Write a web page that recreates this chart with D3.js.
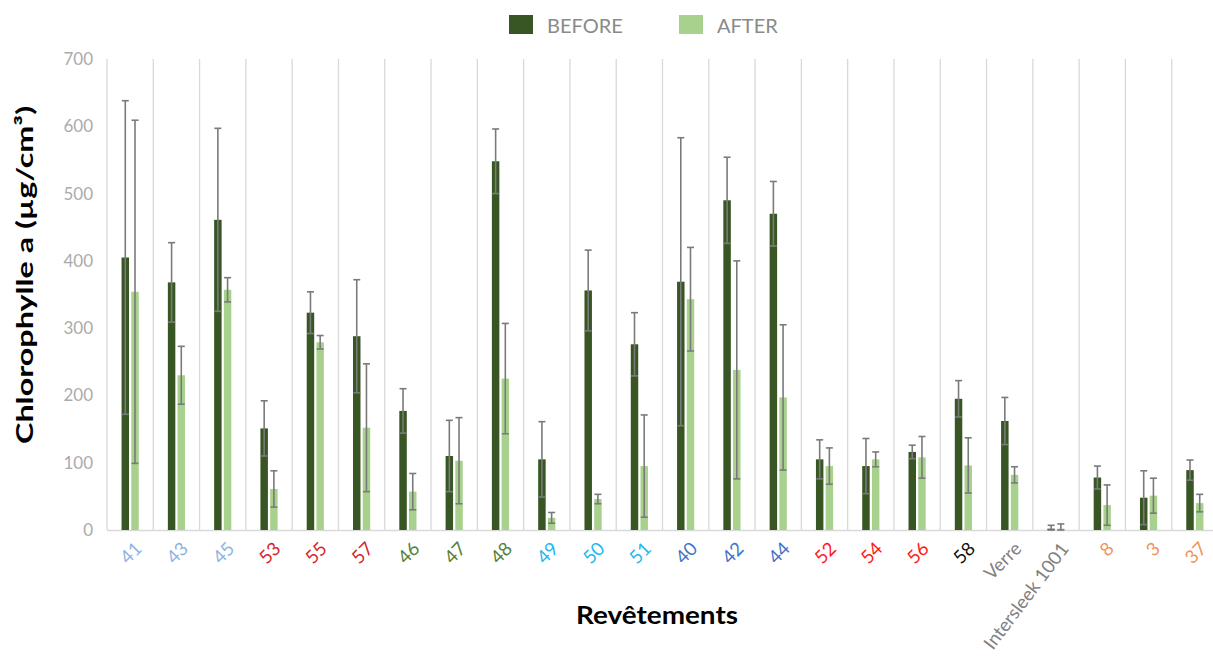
<!DOCTYPE html>
<html>
<head>
<meta charset="utf-8">
<script src="https://cdn.jsdelivr.net/npm/d3@7"></script>
<style>
  html, body { margin: 0; padding: 0; background: #fff; }
  svg { display: block; }
</style>
</head>
<body>
<svg id="chart" width="1213" height="671"></svg>
<script>
const categories = ["41","43","45","53","55","57","46","47","48","49","50","51","40","42","44","52","54","56","58","Verre","Intersleek 1001","8","3","37"];
const labelColors = ["#8fb4e3","#8fb4e3","#8fb4e3","#d6262f","#d6262f","#d6262f","#548235","#548235","#548235","#22b8f0","#22b8f0","#22b8f0","#4472c4","#4472c4","#4472c4","#ff1a1a","#ff1a1a","#ff1a1a","#111111","#808080","#808080","#f0955a","#f0955a","#f0955a"];
const before    = [405,368,461,151,323,288,177,110,548,105,356,276,369,490,470,105,95,116,195,162,2,78,48,89];
const beforeErr = [233,59,136,41,31,84,33,53,48,56,60,47,214,64,48,29,41,10,27,35,5,17,40,15];
const after     = [354,230,357,61,279,152,57,103,225,18,46,95,343,238,197,95,105,108,96,82,2,37,51,40];
const afterErr  = [255,43,18,27,10,95,27,64,82,8,7,76,77,162,108,27,11,31,41,12,7,30,26,13];
const yTicks = [0,100,200,300,400,500,600,700];
const seriesNames = ["BEFORE","AFTER"];
const seriesColors = ["#375623","#a9d18e"];

const svg = d3.select("#chart");
const font = "'Lato', 'Noto Sans', sans-serif";
const x0 = 107, x1 = 1218, yTop = 59, yBot = 530;

const x = d3.scaleBand().domain(categories).range([x0, x1]).paddingInner(0).paddingOuter(0);
const y = d3.scaleLinear().domain([0, 700]).range([yBot, yTop]);
const xs = d3.scaleBand().domain(seriesNames).range([0, x.bandwidth()]).paddingInner(0.23).paddingOuter(1.5);

// vertical gridlines at category boundaries
const bounds = categories.map(c => x(c));
svg.append("g").selectAll("line").data(bounds).join("line")
  .attr("x1", d => d).attr("x2", d => d)
  .attr("y1", yTop).attr("y2", yBot)
  .attr("stroke", "#d9d9d9").attr("stroke-width", 1.3);

// bottom axis line
svg.append("line").attr("x1", x0).attr("x2", x1).attr("y1", yBot + 0.5).attr("y2", yBot + 0.5)
  .attr("stroke", "#d9d9d9").attr("stroke-width", 1.5);

// y axis ticks
const yAxis = d3.axisLeft(y).tickValues(yTicks).tickSize(0).tickPadding(14);
const gy = svg.append("g").attr("transform", `translate(${x0},0)`).call(yAxis);
gy.select(".domain").remove();
gy.selectAll("text").attr("fill", "#ababab").style("font-family", font).style("font-size", "17px").style("font-weight", "400");

// bars
const data = [];
categories.forEach((c, i) => {
  data.push({c, s: "BEFORE", v: before[i], e: beforeErr[i], col: seriesColors[0]});
  data.push({c, s: "AFTER", v: after[i], e: afterErr[i], col: seriesColors[1]});
});
svg.append("g").selectAll("rect").data(data).join("rect")
  .attr("x", d => x(d.c) + xs(d.s))
  .attr("width", xs.bandwidth())
  .attr("y", d => y(d.v))
  .attr("height", d => y(0) - y(d.v))
  .attr("fill", d => d.col);

// error bars
const eg = svg.append("g").attr("stroke", "#7a7a7a").attr("stroke-width", 1.6);
data.forEach(d => {
  const cx = x(d.c) + xs(d.s) + xs.bandwidth() / 2;
  const lo = Math.max(0, d.v - d.e), hi = d.v + d.e;
  eg.append("line").attr("x1", cx).attr("x2", cx).attr("y1", y(hi)).attr("y2", y(lo));
  eg.append("line").attr("x1", cx - 3.5).attr("x2", cx + 3.5).attr("y1", y(hi)).attr("y2", y(hi));
  eg.append("line").attr("x1", cx - 3.5).attr("x2", cx + 3.5).attr("y1", y(lo)).attr("y2", y(lo));
});

// x labels rotated
svg.append("g").selectAll("text").data(categories).join("text")
  .attr("transform", d => `translate(${x(d) + x.bandwidth() / 2 + 7},${yBot + 14}) rotate(${d.length > 10 ? -53 : -45})`)
  .attr("text-anchor", "end")
  .attr("dy", "0.45em")
  .attr("fill", (d, i) => labelColors[i])
  .style("font-family", font).style("font-size", "18.5px").style("font-weight", "400")
  .text(d => d);

// axis titles
svg.append("text")
  .attr("transform", `translate(33,275) rotate(-90)`)
  .attr("text-anchor", "middle")
  .attr("textLength", 338).attr("lengthAdjust", "spacingAndGlyphs")
  .style("font-family", font).style("font-size", "23px").style("font-weight", "bold")
  .attr("fill", "#000")
  .text("Chlorophylle  a (µg/cm³)");

svg.append("text")
  .attr("x", 657).attr("y", 624)
  .attr("text-anchor", "middle")
  .attr("textLength", 162).attr("lengthAdjust", "spacingAndGlyphs")
  .style("font-family", font).style("font-size", "25px").style("font-weight", "bold")
  .attr("fill", "#000")
  .text("Revêtements");

// legend
const legX = [509, 679];
const lg = svg.append("g");
seriesNames.forEach((s, i) => {
  lg.append("rect").attr("x", legX[i]).attr("y", 15).attr("width", 24).attr("height", 19).attr("fill", seriesColors[i]);
  lg.append("text").attr("x", legX[i] + 38).attr("y", 33)
    .attr("fill", "#8a8a8a")
    .style("font-family", font).style("font-size", "20px").style("font-weight", "400")
    .text(s);
});
</script>
</body>
</html>
